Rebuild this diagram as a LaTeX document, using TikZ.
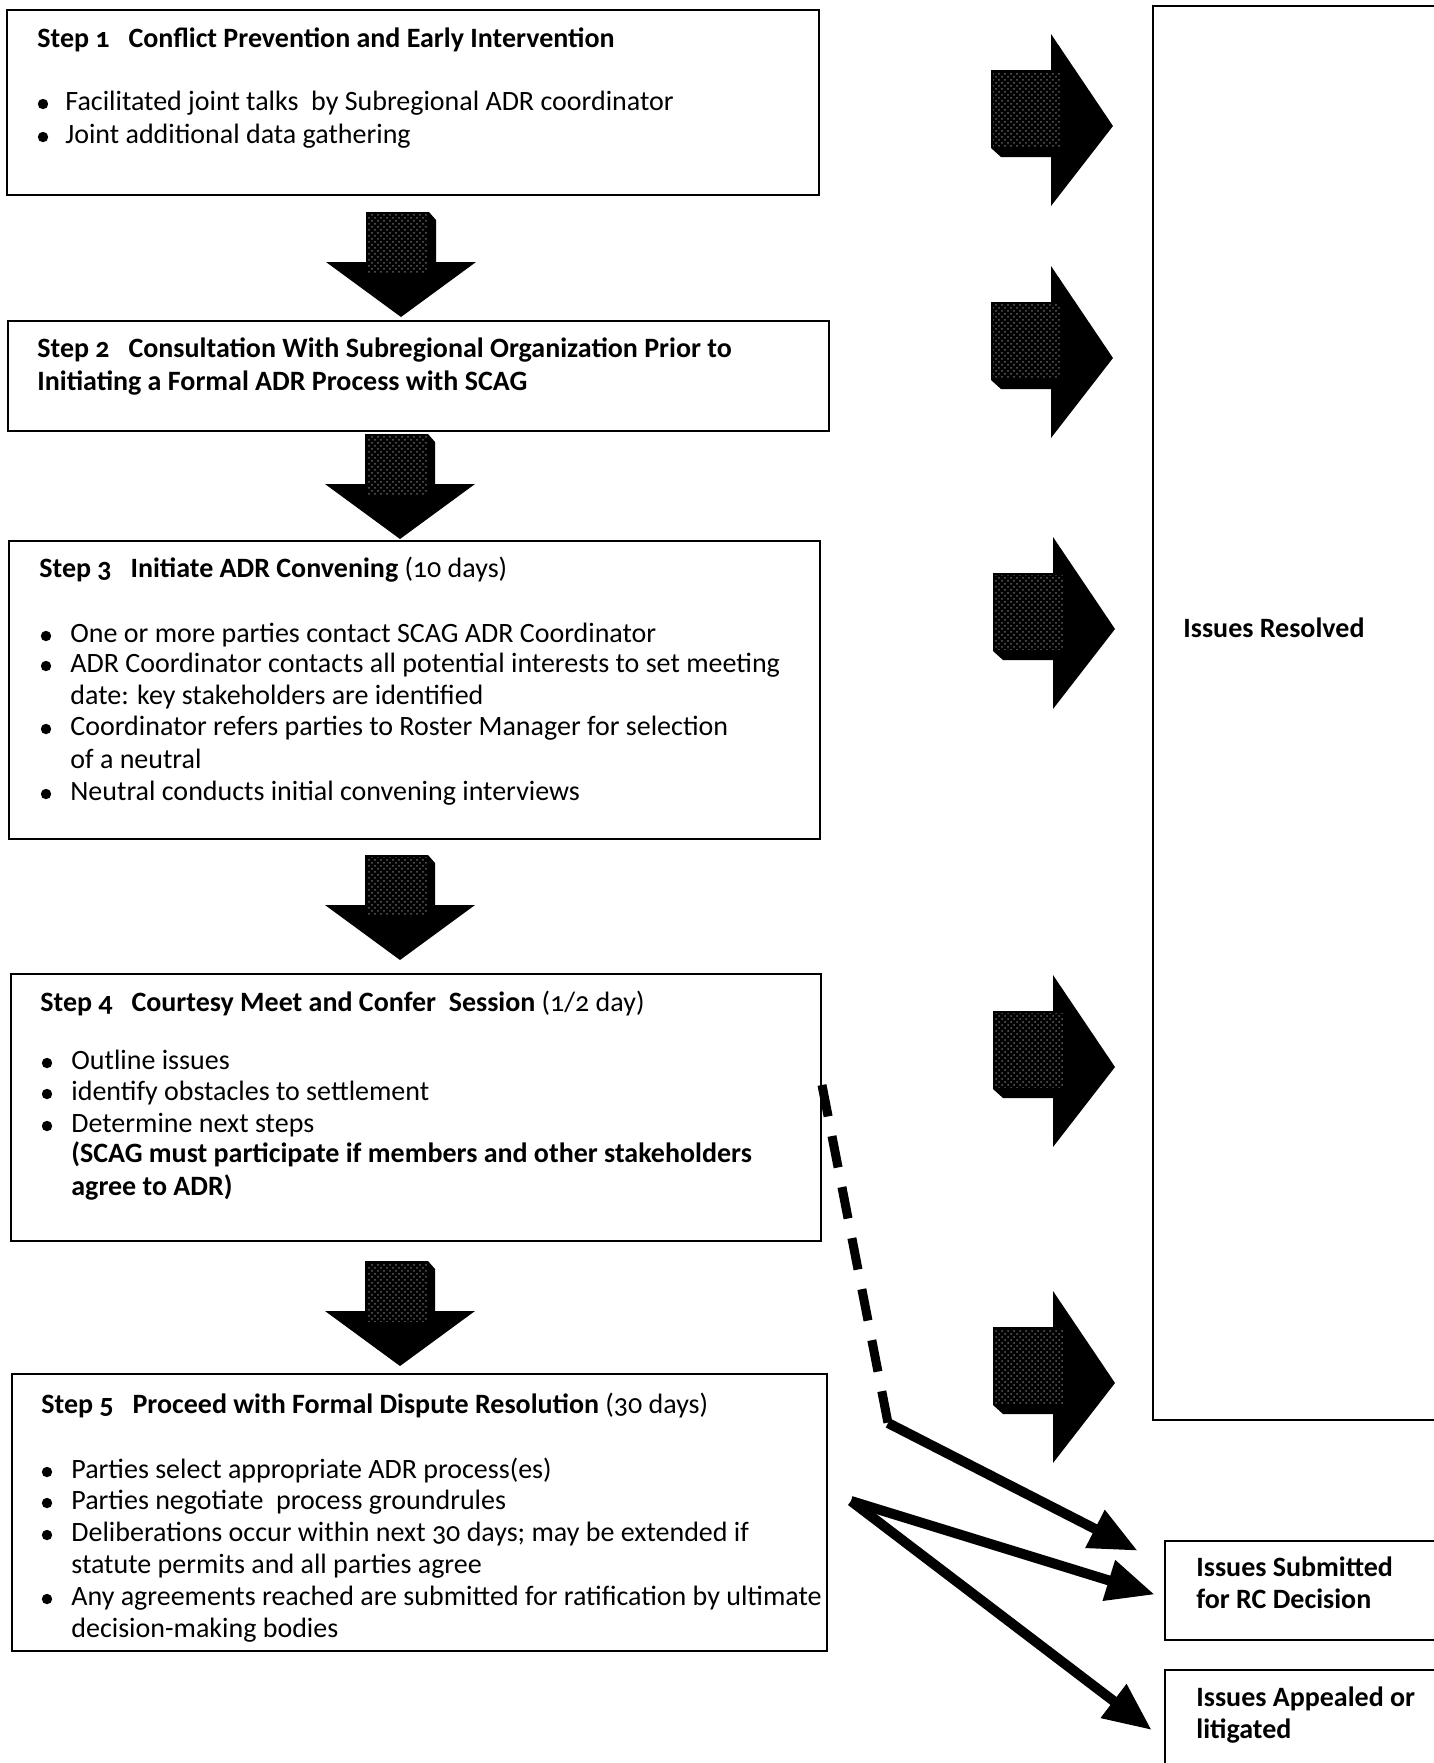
\documentclass[tikz,border=0pt]{standalone}
\usepackage{fontspec}
\setmainfont{Carlito}[Numbers=OldStyle]
\usetikzlibrary{arrows.meta,fit,patterns}

\newcommand\bodyfont{\fontsize{14}{17}\selectfont}

\tikzset{
  downblk/.pic={
    \fill (-35,0) -- (28,0) -- (35,8) -- (35,50) -- (75,50) -- (0,105) -- (-75,50) -- (-35,50) -- cycle;
    \fill[pattern=crosshatch dots, pattern color=black!62] (-33,2) -- (27,2) -- (27,60) -- (-33,60) -- cycle;
  },
  rightblk/.pic={
    \fill (0,-50) -- (60,-50) -- (60,-86) -- (122,6) -- (60,86) -- (60,37) -- (10,37) -- (0,28) -- cycle;
    \fill[pattern=crosshatch dots, pattern color=black!62] (2,-48) -- (70,-48) -- (70,26) -- (2,26) -- cycle;
  },
}

\begin{document}
\begin{tikzpicture}[x=0.5pt,y=-0.5pt,
  box/.style={draw, line width=1.3pt, inner sep=0pt},
  txt/.style={anchor=west, inner sep=0pt, text height=0.7em, text depth=0.22em, yshift=-3pt},
  head/.style={txt, font=\bodyfont\bfseries},
  bul/.style={circle, fill, inner sep=0pt, minimum size=5.2pt, yshift=-3pt},
  dash line/.style={line width=4.5pt, dash pattern=on 16pt off 10pt},
  fat arrow/.style={line width=5pt, -{Triangle[length=24pt,width=20pt]}},
  font=\bodyfont]
\useasboundingbox (0,0) rectangle (1434,1763);

% boxes
\node[box, fit={(7,10) (819,195)}] (s1) {};
\node[box, fit={(8,321) (829,431)}] (s2) {};
\node[box, fit={(9,541) (820,839)}] (s3) {};
\node[box, fit={(11,974) (821,1241)}] (s4) {};
\node[box, fit={(12,1374) (827,1651)}] (s5) {};
\node[box, fit={(1153,6) (1445,1420)}] (resolved) {};
\node[box, fit={(1165,1541) (1445,1640)}] (submitted) {};
\node[box, fit={(1165,1670) (1445,1790)}] (appealed) {};

% step 1
\node[head] (h1) at (37,37) {Step 1\hspace{0.45em} Conflict Prevention and Early Intervention};
\node[bul] (b11) at (43,98) {};
\node[txt] (t11) at (65,100) {Facilitated joint talks\ \ by Subregional ADR coordinator};
\node[bul] (b12) at (43,131) {};
\node[txt] (t12) at (65,133) {Joint additional data gathering};

% step 2
\node[head] (h2) at (37,347) {Step 2\hspace{0.45em} Consultation With Subregional Organization Prior to};
\node[head] (h2b) at (37,380) {Initiating a Formal ADR Process with SCAG};

% step 3
\node[head] (h3) at (39,567) {Step 3\hspace{0.45em} Initiate ADR Convening \mdseries(10 days)};
\node[bul] (b31) at (46,630) {};
\node[txt] (t31) at (70,632) {One or more parties contact SCAG ADR Coordinator};
\node[bul] (b32) at (46,660) {};
\node[txt] (t32) at (70,662) {ADR Coordinator contacts all potential interests to set meeting};
\node[txt] (t32b) at (70,694) {date: key stakeholders are identified};
\node[bul] (b33) at (46,723) {};
\node[txt] (t33) at (70,725) {Coordinator refers parties to Roster Manager for selection};
\node[txt] (t33b) at (70,758) {of a neutral};
\node[bul] (b34) at (46,788) {};
\node[txt] (t34) at (70,790) {Neutral conducts initial convening interviews};

% step 4
\node[head] (h4) at (40,1001) {Step 4\hspace{0.45em} Courtesy Meet and Confer\ \ Session \mdseries(1/2 day)};
\node[bul] (b41) at (47,1057) {};
\node[txt] (t41) at (71,1059) {Outline issues};
\node[bul] (b42) at (47,1088) {};
\node[txt] (t42) at (71,1090) {identify obstacles to settlement};
\node[bul] (b43) at (47,1120) {};
\node[txt] (t43) at (71,1122) {Determine next steps};
\node[head] (t44) at (71,1152) {(SCAG must participate if members and other stakeholders};
\node[head] (t44b) at (71,1185) {agree to ADR)};

% step 5
\node[head] (h5) at (41,1403) {Step 5\hspace{0.45em} Proceed with Formal Dispute Resolution \mdseries(30 days)};
\node[bul] (b51) at (47,1466) {};
\node[txt] (t51) at (71,1468) {Parties select appropriate ADR process(es)};
\node[bul] (b52) at (47,1497) {};
\node[txt] (t52) at (71,1499) {Parties negotiate\ \ process groundrules};
\node[bul] (b53) at (47,1529) {};
\node[txt] (t53) at (71,1531) {Deliberations occur within next 30 days; may be extended if};
\node[txt] (t53b) at (71,1563) {statute permits and all parties agree};
\node[bul] (b54) at (47,1593) {};
\node[txt] (t54) at (71,1595) {Any agreements reached are submitted for ratification by ultimate};
\node[txt] (t54b) at (71,1627) {decision-making bodies};

% outcomes
\node[head] (r1) at (1183,627) {Issues Resolved};
\node[head] (r2) at (1196,1566) {Issues Submitted};
\node[head] (r2b) at (1196,1598) {for RC Decision};
\node[head] (r3) at (1196,1696) {Issues Appealed or};
\node[head] (r3b) at (1196,1728) {litigated};

% block arrows
\pic at (401,212) {downblk};
\pic at (400,434) {downblk};
\pic at (400,855) {downblk};
\pic at (400,1261) {downblk};
\pic at (991,120) {rightblk};
\pic at (991,352) {rightblk};
\pic at (993,623) {rightblk};
\pic at (993,1061) {rightblk};
\pic at (993,1377) {rightblk};

% connectors
\coordinate (dstart) at (822,1085);
\coordinate (bend) at (888,1423);
\coordinate (vtip) at (851,1501);
\draw[dash line] (dstart) -- (bend);
\draw[fat arrow] (bend) -- ([xshift=-13pt,yshift=-5.5pt]submitted.north west);
\draw[fat arrow] (vtip) -- ([xshift=-4.5pt,yshift=-2pt]submitted.west);
\draw[fat arrow] (vtip) -- ([xshift=-6pt]appealed.west);
\end{tikzpicture}
\end{document}
